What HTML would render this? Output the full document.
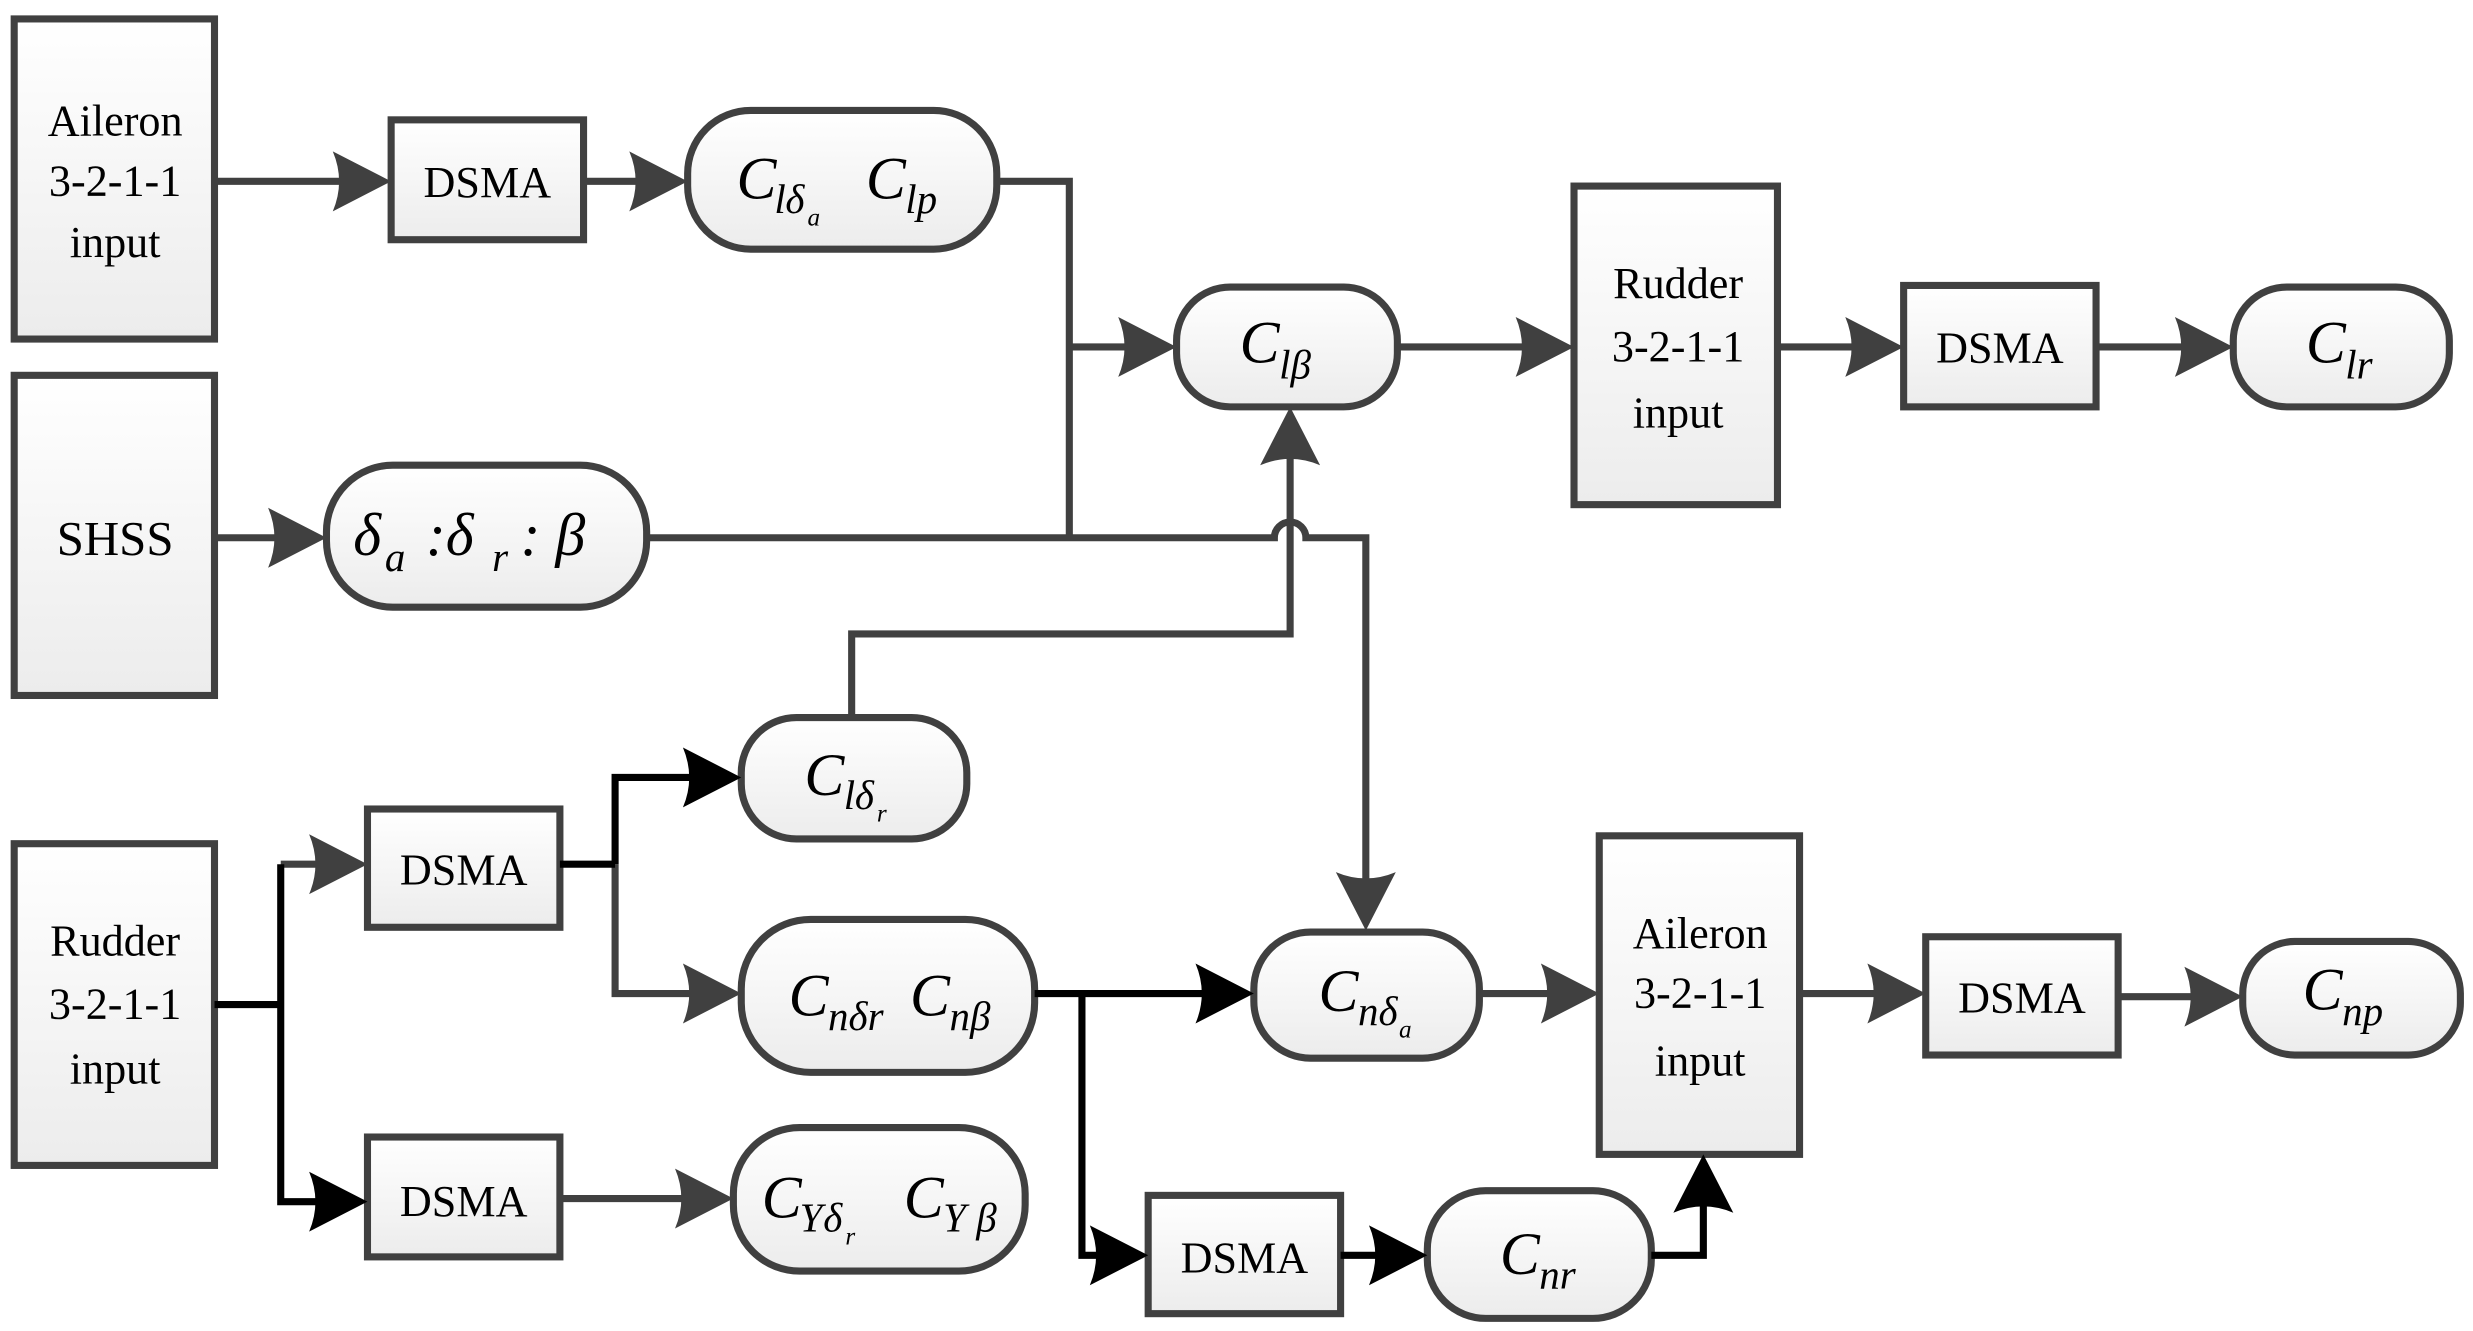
<!DOCTYPE html>
<html><head><meta charset="utf-8"><style>
html,body{margin:0;padding:0;background:#fff;}
svg{display:block;}
.t{font-size:28px;text-anchor:middle;}
.m{font-size:38px;font-style:italic;}
.s{font-size:26px;font-style:italic;}
.ss{font-size:16px;font-style:italic;}
</style></head><body>
<svg width="2473" height="1331" viewBox="0 0 1568 844" preserveAspectRatio="none" xmlns="http://www.w3.org/2000/svg" font-family="'Liberation Serif', 'DejaVu Serif', serif">
<defs>
<linearGradient id="g" x1="0" y1="0" x2="0" y2="1"><stop offset="0" stop-color="#ffffff"/><stop offset="1" stop-color="#ececec"/></linearGradient>
<path id="ag" d="M0,0 L-37,-19 Q-29,0 -37,19 Z" fill="#404040"/>
<path id="ab" d="M0,0 L-37,-19 Q-29,0 -37,19 Z" fill="#000"/>
</defs>
<g fill="url(#g)" stroke="#404040" stroke-width="4.5">
<rect x="9" y="12" width="127" height="203"/>
<rect x="9" y="238" width="127" height="203"/>
<rect x="9" y="535" width="127" height="204"/>
<rect x="998" y="118" width="129" height="202"/>
<rect x="1014" y="530" width="127" height="202"/>
<rect x="248" y="76" width="122" height="76"/>
<rect x="1207" y="181" width="122" height="77"/>
<rect x="233" y="513" width="122" height="75"/>
<rect x="233" y="721" width="122" height="76"/>
<rect x="1221" y="594" width="122" height="75"/>
<rect x="728" y="758" width="122" height="75"/>
<rect x="436" y="70" width="196" height="88" rx="40"/>
<rect x="746" y="182" width="140" height="76" rx="34"/>
<rect x="1416" y="182" width="137" height="76" rx="34"/>
<rect x="207" y="295" width="203" height="90" rx="42"/>
<rect x="470" y="455" width="143" height="77" rx="35"/>
<rect x="470" y="583" width="186" height="97" rx="44"/>
<rect x="465" y="715" width="185" height="91" rx="42"/>
<rect x="795" y="591" width="143" height="80" rx="36"/>
<rect x="1422" y="597" width="138" height="72" rx="33"/>
<rect x="905" y="755" width="142" height="81" rx="37"/>
</g>
<g fill="none" stroke="#404040" stroke-width="4.5">
<path d="M136,115 H225"/><path d="M370,115 H412"/>
<path d="M632,115 H678 V340"/><path d="M678,220 H722"/>
<path d="M886,220 H974"/><path d="M1127,220 H1183"/><path d="M1329,220 H1392"/>
<path d="M136,341 H183"/>
<path d="M410,341 H808 A10,10 0 0 1 828,341 H866 V566"/>
<path d="M818,282 V402 H540 V455"/>
<path d="M178,548 H209"/><path d="M390,548 V630 H446"/><path d="M355,760 H441"/>
<path d="M938,630 H990"/><path d="M1141,630 H1197"/><path d="M1343,632 H1398"/>
</g>
<g fill="none" stroke="#000" stroke-width="4.5">
<path d="M136,637 H178"/><path d="M178,548 V762 H209"/>
<path d="M355,548 H390"/><path d="M390,548 V493 H446"/>
<path d="M656,630 H771"/><path d="M686,630 V796 H704"/>
<path d="M850,796 H881"/><path d="M1047,796 H1080 V756"/>
</g>
<use href="#ag" transform="translate(248,115)"/>
<use href="#ag" transform="translate(436,115)"/>
<use href="#ag" transform="translate(746,220)"/>
<use href="#ag" transform="translate(998,220)"/>
<use href="#ag" transform="translate(1207,220)"/>
<use href="#ag" transform="translate(1416,220)"/>
<use href="#ag" transform="translate(207,341)"/>
<use href="#ag" transform="translate(818,258) rotate(-90)"/>
<use href="#ag" transform="translate(866,590) rotate(90)"/>
<use href="#ag" transform="translate(233,548)"/>
<use href="#ab" transform="translate(233,762)"/>
<use href="#ab" transform="translate(470,493)"/>
<use href="#ag" transform="translate(470,630)"/>
<use href="#ag" transform="translate(465,760)"/>
<use href="#ab" transform="translate(795,630)"/>
<use href="#ab" transform="translate(728,796)"/>
<use href="#ab" transform="translate(905,796)"/>
<use href="#ab" transform="translate(1080,732) rotate(-90)"/>
<use href="#ag" transform="translate(1014,630)"/>
<use href="#ag" transform="translate(1221,630)"/>
<use href="#ag" transform="translate(1422,632)"/>
<g class="t" font-family="'Liberation Serif', serif">
<text x="73" y="86">Aileron</text><text x="73" y="124">3-2-1-1</text><text x="73" y="163">input</text>
<text x="73" y="352" font-size="31">SHSS</text>
<text x="73" y="606">Rudder</text><text x="73" y="646">3-2-1-1</text><text x="73" y="687">input</text>
<text x="1064" y="189">Rudder</text><text x="1064" y="229">3-2-1-1</text><text x="1064" y="271">input</text>
<text x="1078" y="601">Aileron</text><text x="1078" y="639">3-2-1-1</text><text x="1078" y="682">input</text>
<text x="309" y="125">DSMA</text><text x="1268" y="230">DSMA</text><text x="294" y="561">DSMA</text>
<text x="294" y="771">DSMA</text><text x="1282" y="642">DSMA</text><text x="789" y="807">DSMA</text>
</g>
<g font-family="'Liberation Serif', serif">
<text x="467" y="126" class="m">C</text><text x="491" y="135" class="s">l</text><text x="498" y="135" class="s">δ</text><text x="512" y="143" class="ss">a</text>
<text x="549" y="126" class="m">C</text><text x="574" y="135" class="s">lp</text>
<text x="786" y="230" class="m">C</text><text x="811" y="240" class="s">lβ</text>
<text x="1462" y="230" class="m">C</text><text x="1487" y="240" class="s">lr</text>
<text x="224" y="352" class="m">δ</text><text x="244" y="362" class="s">a</text><text x="270" y="352" class="m">:δ</text><text x="312" y="362" class="s">r</text><text x="330" y="352" class="m">: β</text>
<text x="510" y="504" class="m">C</text><text x="535" y="513" class="s">l</text><text x="542" y="513" class="s">δ</text><text x="556" y="521" class="ss">r</text>
<text x="500" y="644" class="m">C</text><text x="525" y="653" class="s">nδr</text><text x="577" y="644" class="m">C</text><text x="602" y="653" class="s">nβ</text>
<text x="483" y="772" class="m">C</text><text x="507" y="781" class="s">Y</text><text x="522" y="781" class="s">δ</text><text x="536" y="789" class="ss">r</text>
<text x="573" y="772" class="m">C</text><text x="598" y="781" class="s">Y β</text>
<text x="836" y="641" class="m">C</text><text x="861" y="650" class="s">nδ</text><text x="887" y="658" class="ss">a</text>
<text x="1460" y="640" class="m">C</text><text x="1485" y="650" class="s">np</text>
<text x="951" y="808" class="m">C</text><text x="976" y="817" class="s">nr</text>
</g>
</svg>
</body></html>
